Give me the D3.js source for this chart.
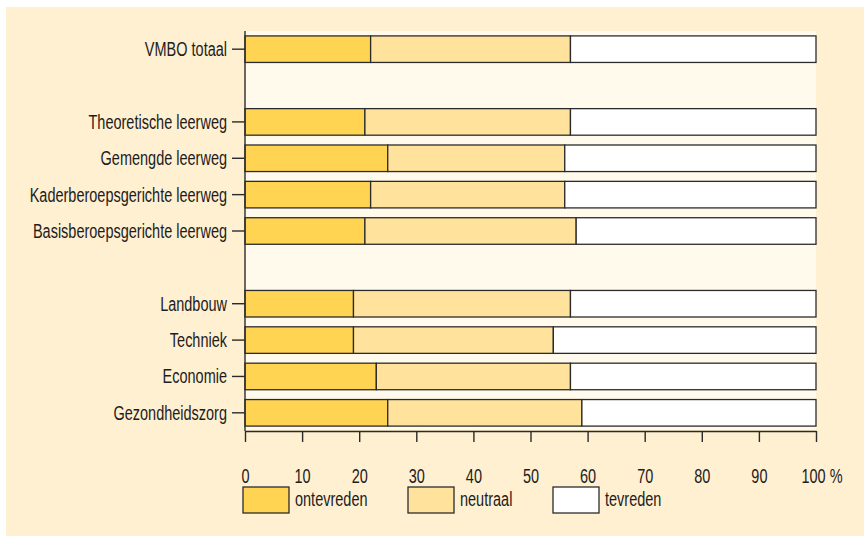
<!DOCTYPE html>
<html>
<head>
<meta charset="utf-8">
<script src="https://cdn.jsdelivr.net/npm/d3@7/dist/d3.min.js"></script>
<style>
  body { margin: 0; background: #fff; }
  svg text { font-family: "Liberation Sans", Arial, sans-serif; fill: #1f1c1d; }
</style>
</head>
<body>
<svg id="chart"></svg>
<script>
const width = 864;
const height = 536;

// rows (blank strings are spacer rows)
const categories = ["VMBO totaal", "", "Theoretische leerweg", "Gemengde leerweg",
  "Kaderberoepsgerichte leerweg", "Basisberoepsgerichte leerweg", " ",
  "Landbouw", "Techniek", "Economie", "Gezondheidszorg"];
const ontevreden = [22, null, 21, 25, 22, 21, null, 19, 19, 23, 25];
const neutraal   = [35, null, 36, 31, 34, 37, null, 38, 35, 34, 34];
const tevreden   = [43, null, 43, 44, 44, 42, null, 43, 46, 43, 41];
const seriesNames = ["ontevreden", "neutraal", "tevreden"];
const colors = ["#ffd452", "#ffe39c", "#ffffff"];
const xTicks = [0, 10, 20, 30, 40, 50, 60, 70, 80, 90, 100];

const margin = {left: 245, right: 48, top: 31, bottom: 105};
const fontSize = "20px";
const squeeze = 0.725; // no condensed font available, so narrow the text

let svg = d3.select("#chart")
  .attr("width", width)
  .attr("height", height);

// make text look condensed: scale horizontally around its own x
function narrow(sel) {
  sel.each(function() {
    let t = d3.select(this);
    let xPos = +t.attr("x") || 0;
    t.attr("x", xPos / squeeze)
     .attr("transform", `scale(${squeeze},1)`)
     .style("font-size", fontSize);
  });
}

// panel background
svg.append("rect")
  .attr("x", 6).attr("y", 7)
  .attr("width", width - 6).attr("height", height - 7)
  .style("fill", "#fef0d0");

let x = d3.scaleLinear().domain([0, 100]).range([margin.left, width - margin.right]);
let y = d3.scaleBand()
  .domain(categories)
  .range([margin.top, height - margin.bottom])
  .paddingInner(0.27)
  .paddingOuter(0.135);

// plot background
svg.append("rect")
  .attr("x", x(0)).attr("y", margin.top)
  .attr("width", x(100) - x(0)).attr("height", height - margin.bottom - margin.top - 1)
  .style("fill", "#fffaeb");

let rows = categories.map((c, i) => ({
  name: c,
  values: [ontevreden[i], neutraal[i], tevreden[i]]
})).filter(d => d.values[0] !== null);

let stacked = [];
rows.forEach(r => {
  let acc = 0;
  r.values.forEach((v, j) => {
    stacked.push({name: r.name, series: j, x0: acc, x1: acc + v});
    acc += v;
  });
});

svg.selectAll(".bar")
  .data(stacked)
  .enter()
  .append("rect")
    .classed("bar", true)
    .attr("x", d => x(d.x0))
    .attr("y", d => y(d.name))
    .attr("width", d => x(d.x1) - x(d.x0))
    .attr("height", y.bandwidth())
    .style("fill", d => colors[d.series])
    .style("stroke", "#2b2b2b")
    .style("stroke-width", 1.3);

// y axis
let yAxis = svg.append("g")
  .attr("transform", `translate(${x(0)},0)`)
  .call(d3.axisLeft(y)
    .tickValues(categories.filter(c => c.trim() !== ""))
    .tickSize(13)
    .tickSizeOuter(0)
    .tickPadding(5));
yAxis.select(".domain").attr("d", `M0,${margin.top}V${height - margin.bottom}`);
yAxis.selectAll("text").attr("dy", "0.35em").call(narrow);

// x axis
let xAxis = svg.append("g")
  .attr("transform", `translate(0,${height - margin.bottom})`)
  .call(d3.axisBottom(x)
    .tickValues(xTicks)
    .tickSize(11)
    .tickSizeOuter(0)
    .tickPadding(27)
    .tickFormat(d => d === 100 ? "100 %" : d));
xAxis.selectAll("text").call(narrow);
// last label carries the unit, starts a bit left of its tick
xAxis.selectAll(".tick text").filter(d => d === 100)
  .attr("text-anchor", "start")
  .attr("x", -15 / squeeze);

svg.selectAll(".domain, .tick line")
  .style("stroke", "#2b2b2b")
  .style("stroke-width", 1.4);

// legend
let legendX = [243, 408, 553];
let legend = svg.selectAll(".legend-item")
  .data(seriesNames)
  .enter()
  .append("g")
    .classed("legend-item", true)
    .attr("transform", (d, i) => `translate(${legendX[i]},487)`);

legend.append("rect")
  .attr("width", 46)
  .attr("height", 26)
  .style("fill", (d, i) => colors[i])
  .style("stroke", "#2b2b2b")
  .style("stroke-width", 1.3);

legend.append("text")
  .attr("x", 52)
  .attr("y", 19)
  .text(d => d)
  .call(narrow);
</script>
</body>
</html>
